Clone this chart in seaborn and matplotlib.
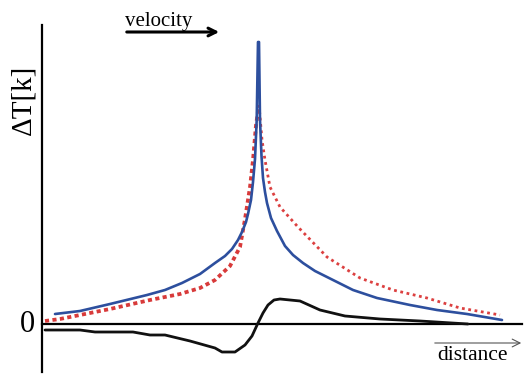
import matplotlib
matplotlib.use("Agg")
import matplotlib.pyplot as plt
import seaborn as sns
import pandas as pd

# distance (px-like units) and temperature rise dT (units above zero line)
blue_x = [55, 80, 110, 147, 165, 182, 200, 215, 225, 232, 238, 242, 246, 248, 251, 253, 255, 256.7, 258,
          259, 260, 261.5, 263, 265, 267, 271, 277, 285, 293, 303, 315, 327, 353, 377, 410, 437, 467, 502]
blue_y = [10, 13, 20, 29, 34, 41, 50, 61, 68, 75, 84, 92, 102, 110, 124, 142, 165, 204, 282,
          282, 204, 168, 146, 132, 121, 106, 93, 78, 69, 61, 53, 47, 34, 26, 19, 14, 10, 4]

red_x = [45, 60, 75, 110, 150, 180, 200, 215, 230, 240, 245, 250, 253, 256, 259,
         262, 265, 270, 280, 298, 327, 360, 393, 427, 460, 500]
red_y = [3, 5, 8, 15, 24, 30, 36, 44, 58, 77, 105, 137, 164, 199, 219,
         184, 164, 137, 117, 97, 67, 46, 34, 26, 16, 9]

black_x = [45, 80, 95, 133, 150, 165, 190, 215, 222, 235, 245, 252, 258, 263, 268, 274, 280,
           290, 300, 320, 345, 380, 420, 468]
black_y = [-6, -6, -8, -8, -11, -11, -17, -24, -28, -28, -21, -12, 1, 11, 19, 24, 25,
           24, 23, 14, 8, 5, 3, 0]

sns.set_theme(style="white")
plt.rcParams['font.family'] = ['Liberation Serif', 'DejaVu Serif']

fig = plt.figure(figsize=(5.26, 3.74), dpi=100)
ax = fig.add_axes([0, 0, 1, 1])

df_b = pd.DataFrame({"distance": blue_x, "dT": blue_y})
df_r = pd.DataFrame({"distance": red_x, "dT": red_y})
df_k = pd.DataFrame({"distance": black_x, "dT": black_y})
peak = df_r["dT"].idxmax()
df_r_left = df_r.iloc[:peak + 1]
df_r_right = df_r.iloc[peak:]

sns.lineplot(data=df_r_left, x="distance", y="dT", ax=ax, color="#d83a3a", lw=2.7,
             linestyle=(0, (1.1, 0.9)), sort=False, estimator=None)
sns.lineplot(data=df_r_right, x="distance", y="dT", ax=ax, color="#dc4040", lw=2.0,
             linestyle=(0, (1.0, 1.3)), sort=False, estimator=None)
sns.lineplot(data=df_b, x="distance", y="dT", ax=ax, color="#2d4f9e", lw=1.9,
             sort=False, estimator=None)
sns.lineplot(data=df_k, x="distance", y="dT", ax=ax, color="#111111", lw=2.0,
             sort=False, estimator=None)

ax.set_xlim(0, 526)
ax.set_ylim(-50, 324)
ax.set_xticks([])
ax.set_yticks([])
ax.set_xlabel("")
ax.set_ylabel("")
for s in ["top", "right"]:
    ax.spines[s].set_visible(False)
ax.spines['left'].set_position(('data', 42))
ax.spines['left'].set_bounds(-48, 299)
ax.spines['bottom'].set_position(('data', 0))
ax.spines['bottom'].set_bounds(42, 522)
for s in ["left", "bottom"]:
    ax.spines[s].set_color("black")
    ax.spines[s].set_linewidth(1.6)
    ax.spines[s].set_zorder(1)

ax.text(27, 0, "0", fontsize=22, ha="center", va="center", color="black")
ax.text(23, 224, "\u0394T[k]", fontsize=21, rotation=90, ha="center", va="center", color="black")

ax.text(125, 303, "velocity", fontsize=15, ha="left", va="center", color="black")
ax.annotate("", xy=(222, 292), xytext=(124, 292),
            arrowprops=dict(arrowstyle="->", color="black", lw=2.2, mutation_scale=14))

ax.text(472, -31, "distance", fontsize=15.5, ha="center", va="center", color="black")
ax.annotate("", xy=(524, -19), xytext=(432, -19),
            arrowprops=dict(arrowstyle="->", color="#555555", lw=0.8, mutation_scale=14))

fig.savefig("out.png", dpi=100)
